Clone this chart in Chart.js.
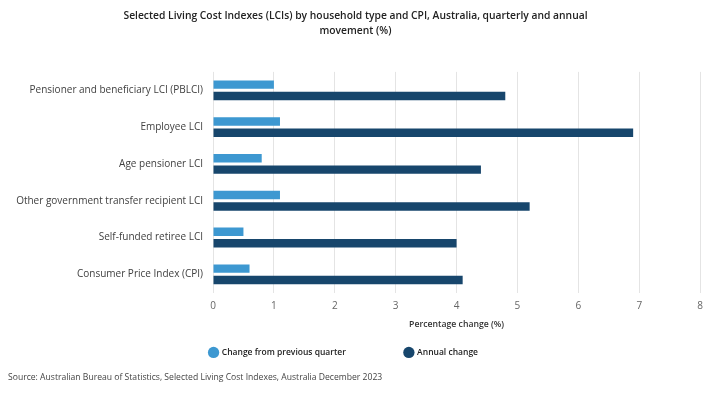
<!DOCTYPE html>
<html>
<head>
<meta charset="utf-8">
<script src="https://cdn.jsdelivr.net/npm/chart.js@4.4.1/dist/chart.umd.min.js"></script>
<style>
  html, body { margin: 0; padding: 0; background: #fff; }
  #wrap { width: 710px; height: 394px; }
</style>
</head>
<body>
<div id="wrap"><canvas id="myChart" width="710" height="394"></canvas></div>
<script>
// Categorias e valores
const categories = [
    'Pensioner and beneficiary LCI (PBLCI)',
    'Employee LCI',
    'Age pensioner LCI',
    'Other government transfer recipient LCI',
    'Self-funded retiree LCI',
    'Consumer Price Index (CPI)'
];
const quarterlyChange = [1.0, 1.1, 0.8, 1.1, 0.5, 0.6];
const annualChange = [4.8, 6.9, 4.4, 5.2, 4.0, 4.1];
const xTicks = [0, 1, 2, 3, 4, 5, 6, 7, 8];

const fontFamily = "'Open Sans', sans-serif";
// espaço extra depois de cada item da legenda
const legendGap = ['\u2003\u2003\u2003\u2003\u2003\u2002 ', '\u2003\u2003\u2002 '];

const ctx = document.getElementById('myChart');
new Chart(ctx, {
    type: 'bar',
    data: {
        labels: categories,
        datasets: [{
            label: 'Change from previous quarter',
            data: quarterlyChange,
            backgroundColor: '#3d98d1',
            barPercentage: 0.74,
            categoryPercentage: 0.62
        }, {
            label: 'Annual change',
            data: annualChange,
            backgroundColor: '#17466c',
            barPercentage: 0.74,
            categoryPercentage: 0.62
        }]
    },
    options: {
        indexAxis: 'y',
        responsive: false,
        animation: false,
        layout: {
            padding: { left: 8, right: 7, top: 6, bottom: 6 }
        },
        scales: {
            x: {
                min: 0,
                max: 8,
                afterBuildTicks: axis => {
                    axis.ticks = xTicks.map(v => ({ value: v }));
                },
                grid: { color: '#e4e4e4', drawTicks: false },
                border: { display: false },
                ticks: {
                    color: '#666',
                    padding: 7,
                    font: { family: fontFamily, size: 10 }
                },
                title: {
                    display: true,
                    text: 'Percentage change (%)',
                    color: '#333',
                    font: { family: fontFamily, size: 8.7, weight: '600' },
                    padding: { top: 1, bottom: 8 }
                }
            },
            y: {
                grid: { display: false, drawTicks: false },
                border: { display: false },
                ticks: {
                    color: '#404040',
                    padding: 10,
                    font: { family: fontFamily, size: 10 }
                },
                afterFit: axis => {
                    axis.width = 205;
                }
            }
        },
        plugins: {
            title: {
                display: true,
                text: [
                    'Selected Living Cost Indexes (LCIs) by household type and CPI, Australia, quarterly and annual',
                    'movement (%)'
                ],
                color: '#222',
                font: { family: fontFamily, size: 10.3, weight: '600', lineHeight: 1.5 },
                padding: { top: 2, bottom: 33 }
            },
            legend: {
                position: 'bottom',
                labels: {
                    usePointStyle: true,
                    pointStyle: 'circle',
                    boxWidth: 8,
                    boxHeight: 8,
                    padding: 10,
                    color: '#222',
                    font: { family: fontFamily, size: 8.5, weight: '600' },
                    generateLabels: chart => {
                        const items = Chart.defaults.plugins.legend.labels.generateLabels(chart);
                        items.forEach((item, i) => { item.text = item.text + legendGap[i]; });
                        return items;
                    }
                }
            },
            subtitle: {
                display: true,
                position: 'bottom',
                align: 'start',
                text: 'Source: Australian Bureau of Statistics, Selected Living Cost Indexes, Australia December 2023',
                color: '#444',
                font: { family: fontFamily, size: 8.6 },
                padding: { top: 6, bottom: 5 }
            },
            tooltip: { enabled: false }
        }
    }
});
</script>
</body>
</html>
